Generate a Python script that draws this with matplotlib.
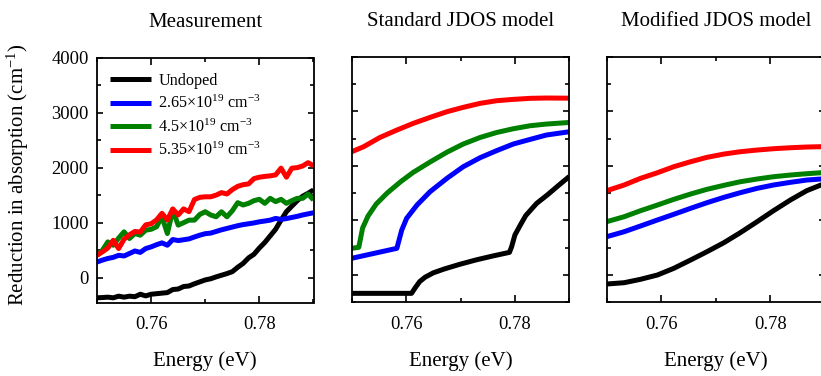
import matplotlib
matplotlib.use("Agg")
import matplotlib.pyplot as plt
import numpy as np
from matplotlib.ticker import MultipleLocator

plt.rcParams["font.family"] = ["Liberation Serif", "DejaVu Serif"]
plt.rcParams["mathtext.fontset"] = "custom"
plt.rcParams["mathtext.rm"] = "Liberation Serif"
plt.rcParams["mathtext.it"] = "Liberation Serif:italic"

# series labels and colours
labels = ["Undoped",
          "2.65×10$^{19}$ cm$^{-3}$",
          "4.5×10$^{19}$ cm$^{-3}$",
          "5.35×10$^{19}$ cm$^{-3}$"]
colors = ["black", "#0000ff", "#008000", "#ff0000"]

# --- measured reduction in absorption (cm^-1), 1 meV steps ---
energy_meas = np.linspace(0.750, 0.790, 41)
meas_undoped = [-365, -360, -353, -365, -335, -353, -335, -345, -300, -330,
                -300, -290, -280, -270, -215, -205, -160, -150, -110, -75,
                -40, -19, 15, 45, 75, 110, 190, 260, 360, 426,
                540, 640, 760, 880, 1046, 1200, 1300, 1400, 1480, 1534,
                1594]
meas_265 = [285, 320, 350, 370, 407, 395, 440, 486, 460, 530,
            560, 600, 633, 590, 694, 675, 690, 705, 740, 773,
            800, 810, 840, 870, 895, 920, 945, 965, 980, 995,
            1016, 1030, 1046, 1077, 1059, 1075, 1095, 1115, 1140, 1160,
            1180]
meas_45 = [407, 499, 651, 590, 720, 834, 712, 803, 773, 864,
           880, 925, 1107, 803, 1229, 955, 1000, 1046, 1046, 1150,
           1199, 1140, 1107, 1198, 1107, 1216, 1363, 1321, 1351, 1400,
           1424, 1351, 1442, 1382, 1424, 1351, 1400, 1442, 1442, 1521,
           1412]
meas_535 = [407, 470, 540, 680, 530, 700, 780, 840, 830, 960,
            980, 1050, 1170, 1050, 1250, 1140, 1250, 1200, 1420, 1460,
            1470, 1470, 1500, 1546, 1521, 1600, 1660, 1690, 1704, 1800,
            1826, 1840, 1850, 1868, 1990, 1826, 1990, 2000, 2030, 2090,
            2033]

# --- standard JDOS model ---
std_e_undoped = [0.750, 0.761, 0.7617, 0.7625, 0.7635, 0.765, 0.767, 0.770,
                 0.773, 0.776, 0.779, 0.7794, 0.780, 0.781, 0.782, 0.784,
                 0.786, 0.788, 0.790]
std_undoped = [-336, -336, -230, -120, -40, 40, 110, 200,
               280, 350, 415, 519, 733, 916, 1090, 1313,
               1470, 1640, 1805]
std_e_265 = [0.750, 0.7583, 0.7592, 0.7601, 0.762, 0.7644, 0.7675, 0.7705,
             0.7736, 0.7766, 0.7797, 0.7828, 0.7858, 0.790]
std_265 = [306, 489, 824, 1039, 1282, 1526, 1771, 1984,
           2149, 2277, 2400, 2485, 2565, 2625]
std_e_45 = [0.750, 0.7513, 0.7520, 0.7530, 0.7545, 0.7565, 0.7590, 0.7613,
            0.7644, 0.7675, 0.7705, 0.7736, 0.7766, 0.7797, 0.7828, 0.7858,
            0.790]
std_45 = [489, 507, 860, 1080, 1300, 1500, 1710, 1880,
          2070, 2250, 2400, 2520, 2610, 2680, 2735, 2766,
          2795]
std_e_535 = [0.750, 0.7522, 0.7552, 0.7583, 0.7613, 0.7644, 0.7675, 0.7705,
             0.7736, 0.7766, 0.7797, 0.7828, 0.7858, 0.790]
std_535 = [2259, 2351, 2521, 2656, 2778, 2888, 2992, 3072,
           3145, 3193, 3218, 3237, 3243, 3240]

# --- modified JDOS model ---
mod_energy = [0.750, 0.7532, 0.7562, 0.7593, 0.7623, 0.7654, 0.7684, 0.7715,
              0.7745, 0.7776, 0.7806, 0.7837, 0.7867, 0.7893, 0.790]
mod_undoped = [-165, -141, -79, 0, 122, 275, 427, 592,
               775, 977, 1178, 1374, 1545, 1649, 1675]
mod_265 = [702, 793, 898, 1008, 1112, 1222, 1325, 1423,
           1508, 1588, 1649, 1698, 1740, 1759, 1763]
mod_45 = [977, 1068, 1178, 1282, 1386, 1484, 1570, 1643,
          1709, 1759, 1801, 1832, 1856, 1874, 1878]
mod_535 = [1545, 1649, 1771, 1874, 1984, 2076, 2156, 2216,
           2259, 2290, 2314, 2332, 2345, 2351, 2353]

panels = [
    ("Measurement", [(energy_meas, meas_undoped), (energy_meas, meas_265),
                     (energy_meas, meas_45), (energy_meas, meas_535)], (-450, 4000)),
    ("Standard JDOS model", [(std_e_undoped, std_undoped), (std_e_265, std_265),
                             (std_e_45, std_45), (std_e_535, std_535)], (-500, 4000)),
    ("Modified JDOS model", [(mod_energy, mod_undoped), (mod_energy, mod_265),
                             (mod_energy, mod_45), (mod_energy, mod_535)], (-500, 4000)),
]

fig = plt.figure(figsize=(8.21, 3.76), dpi=100)
W, H = 821.0, 376.0
# axes boxes in pixels: left, top, width, height (last panel runs past the right edge)
boxes = [(97, 57.5, 216.5, 245), (351.7, 56.7, 217.6, 245.6), (606.7, 56.7, 218, 245.6)]

for i, ((title, series, ylim), (x0, top, w, h)) in enumerate(zip(panels, boxes)):
    ax = fig.add_axes([x0 / W, 1 - (top + h) / H, w / W, h / H])
    for (x, y), c, lab in zip(series, colors, labels):
        ax.plot(x, y, color=c, lw=3.6, label=lab, solid_capstyle="butt")
    ax.set_xlim(0.75, 0.79)
    ax.set_ylim(*ylim)
    ax.xaxis.set_major_locator(MultipleLocator(0.02))
    ax.xaxis.set_minor_locator(MultipleLocator(0.01))
    ax.yaxis.set_major_locator(MultipleLocator(1000))
    ax.yaxis.set_minor_locator(MultipleLocator(500))
    ax.tick_params(which="both", direction="in", top=True, right=True,
                   width=1.2, labelsize=13.3)
    ax.tick_params(axis="x", which="major", length=5, pad=10)
    ax.tick_params(axis="x", which="minor", length=3)
    ax.tick_params(axis="y", which="major", length=4.5, pad=6)
    ax.tick_params(axis="y", which="minor", length=3)
    for sp in ax.spines.values():
        sp.set_linewidth(1.3)
    ax.set_xticks([0.76, 0.78])
    ax.set_xticklabels(["0.76", "0.78"])
    ax.set_title(title, fontsize=15, pad=22)
    ax.set_xlabel("Energy (eV)", fontsize=15, labelpad=13)
    ax.set_yticks([0, 1000, 2000, 3000, 4000])
    if i == 0:
        ax.set_ylabel("Reduction in absorption (cm$^{-1}$)", fontsize=15)
        ax.yaxis.set_label_coords(-0.305, 0.52)
        ax.legend(loc="upper left", bbox_to_anchor=(0.045, 0.95), frameon=False,
                  fontsize=11.6, handlelength=2.55, handletextpad=0.45,
                  labelspacing=0.38, borderpad=0.2, borderaxespad=0)
    else:
        ax.set_yticklabels([])

fig.savefig("out.png", dpi=100)
